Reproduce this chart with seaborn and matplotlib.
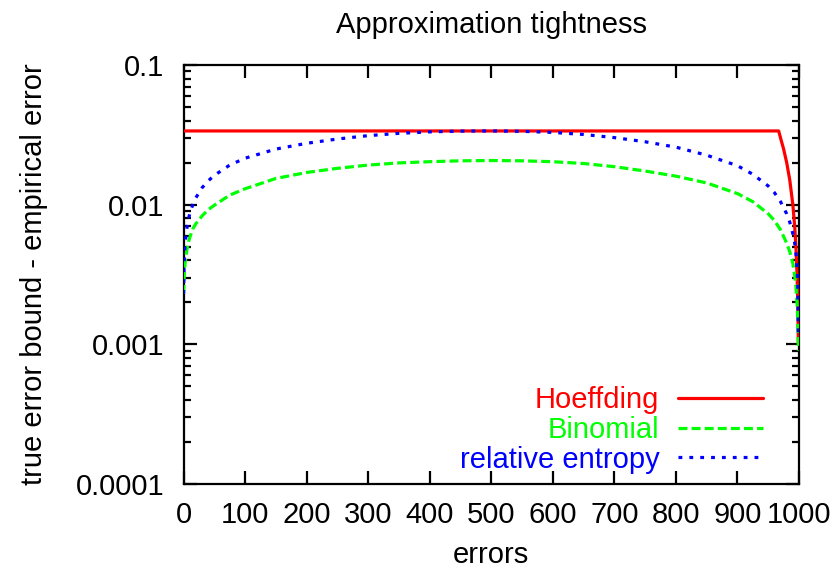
import matplotlib
matplotlib.use("Agg")
import matplotlib.pyplot as plt
from matplotlib.ticker import LogLocator, FixedLocator, NullFormatter
import seaborn as sns
import pandas as pd

# number of training errors (out of 1000 examples)
hoeff_x = [0, 967, 970, 975, 980, 985, 990, 993, 995, 997, 998, 999]
hoeff_y = [0.0337, 0.0337, 0.0300, 0.0250, 0.0200, 0.0150, 0.0100,
           0.0070, 0.0050, 0.0030, 0.0020, 0.0010]

errs_x = [0, 1, 2, 3, 5, 7, 10, 15, 20, 30, 40, 50, 75, 100, 150, 200, 250,
          300, 350, 400, 450, 500, 550, 600, 650, 700, 750, 800, 850, 900,
          925, 950, 960, 970, 980, 985, 990, 993, 995, 997, 998, 999]

binom_y = [0.0023, 0.0030, 0.0036, 0.0040, 0.0046, 0.0052, 0.0058, 0.0067,
           0.0073, 0.0083, 0.0092, 0.0099, 0.0117, 0.0130, 0.0154, 0.0170,
           0.0182, 0.0192, 0.0199, 0.0203, 0.0206, 0.0207, 0.0206, 0.0203,
           0.0197, 0.0187, 0.0174, 0.0160, 0.0143, 0.0120, 0.0105, 0.0086,
           0.0077, 0.0066, 0.0053, 0.0046, 0.0038, 0.0031, 0.0026, 0.0019,
           0.0015, 0.0009]

relent_y = [0.0023, 0.0039, 0.0048, 0.0055, 0.0066, 0.0075, 0.0086, 0.0100,
            0.0112, 0.0132, 0.0148, 0.0162, 0.0192, 0.0215, 0.0250, 0.0275,
            0.0295, 0.0312, 0.0324, 0.0332, 0.0336, 0.0337, 0.0335, 0.0329,
            0.0318, 0.0302, 0.0282, 0.0258, 0.0226, 0.0190, 0.0165, 0.0136,
            0.0122, 0.0105, 0.0086, 0.0075, 0.0062, 0.0053, 0.0045, 0.0034,
            0.0026, 0.0012]

x_ticks = [0, 100, 200, 300, 400, 500, 600, 700, 800, 900, 1000]
y_ticks = [0.0001, 0.001, 0.01, 0.1]
y_tick_labels = ["0.0001", "0.001", "0.01", "0.1"]

FS = 21

sns.set_style("ticks")
plt.rcParams["font.family"] = ["Liberation Sans", "DejaVu Sans"]
plt.rcParams["font.size"] = FS
plt.rcParams["text.color"] = "black"
plt.rcParams["axes.labelcolor"] = "black"

fig = plt.figure(figsize=(8.37, 5.71), dpi=100)
ax = fig.add_axes([0.2193, 0.1524, 0.7353, 0.7338])

hoeff = pd.DataFrame({"errors": hoeff_x, "gap": hoeff_y})
binom = pd.DataFrame({"errors": errs_x, "gap": binom_y})
relent = pd.DataFrame({"errors": errs_x, "gap": relent_y})

lw = 2.3
sns.lineplot(data=hoeff, x="errors", y="gap", ax=ax, color="#ff0000",
             lw=lw, linestyle="-", label="Hoeffding", zorder=3)
sns.lineplot(data=binom, x="errors", y="gap", ax=ax, color="#00ff00",
             lw=lw, linestyle=(0, (2.8, 1.3)), label="Binomial", zorder=3)
sns.lineplot(data=relent, x="errors", y="gap", ax=ax, color="#0000ff",
             lw=lw, linestyle=(0, (1.2, 2.2)), label="relative entropy",
             zorder=3)

ax.set_yscale("log")
ax.set_xlim(0, 1000)
ax.set_ylim(0.0001, 0.1)

ax.xaxis.set_major_locator(FixedLocator(x_ticks))
ax.set_xticklabels([str(v) for v in x_ticks])
ax.yaxis.set_major_locator(FixedLocator(y_ticks))
ax.set_yticklabels(y_tick_labels)
ax.yaxis.set_minor_locator(LogLocator(base=10, subs=range(2, 10)))
ax.yaxis.set_minor_formatter(NullFormatter())

for sp in ax.spines.values():
    sp.set_visible(True)
    sp.set_linewidth(1.6)
    sp.set_color("black")

ax.tick_params(axis="both", which="major", direction="in", length=9.5,
               width=1.6, color="black", labelsize=FS, labelcolor="black")
ax.tick_params(axis="y", which="minor", direction="in", length=4.8,
               width=1.6, color="black", left=True, right=True)
ax.tick_params(axis="x", which="major", top=True, bottom=True, pad=12)
ax.tick_params(axis="y", which="major", left=True, right=True, pad=14)

ax.set_title("Approximation tightness", fontsize=FS, pad=23)
ax.set_xlabel("errors", fontsize=FS, labelpad=9)
ax.set_ylabel("true error bound - empirical error", fontsize=FS, labelpad=20)

ax.legend(loc="lower right", bbox_to_anchor=(0.9415, 0.025), frameon=False,
          markerfirst=False, handlelength=2.9, handletextpad=0.65,
          labelspacing=0.06, borderpad=0, borderaxespad=0, fontsize=FS)
leg = ax.get_legend()
for txt, col in zip(leg.get_texts(), ["#ff0000", "#00ff00", "#0000ff"]):
    txt.set_color(col)

fig.savefig("out.png", dpi=100)
